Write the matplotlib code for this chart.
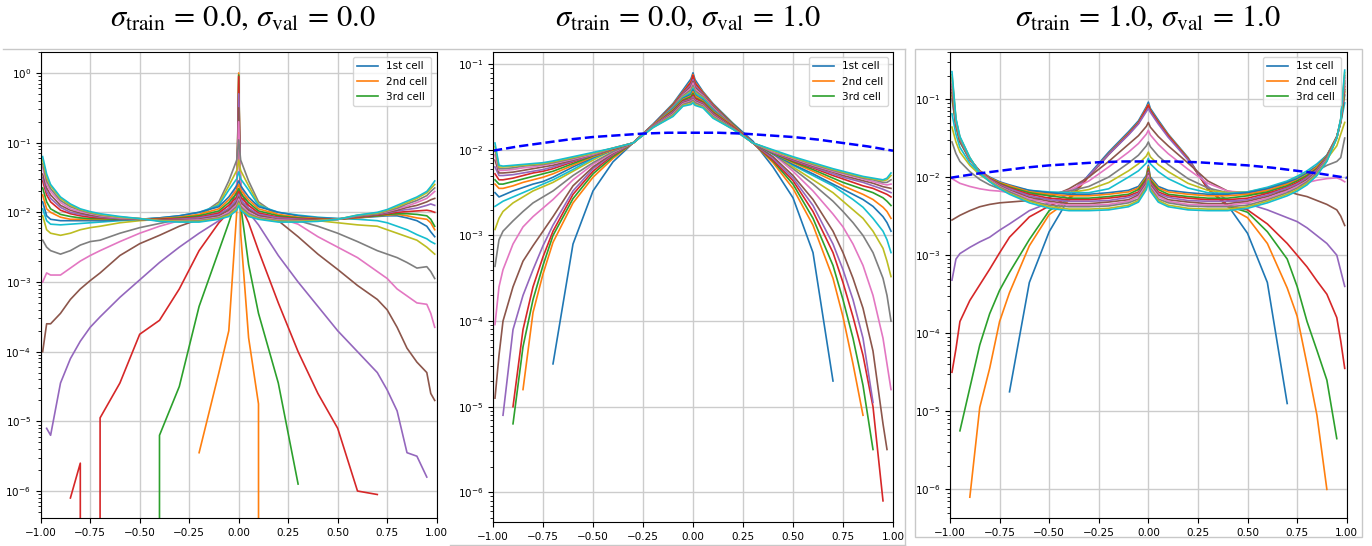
import numpy as np
import matplotlib
matplotlib.use("Agg")
import matplotlib.pyplot as plt
from matplotlib.lines import Line2D
from matplotlib.patches import Rectangle
from matplotlib.ticker import NullFormatter

na = np.nan
Z = -np.inf   # empty bin, log10(0)

# bin centres shared by all histograms
bins = [-0.99, -0.97, -0.95, -0.9, -0.85, -0.8, -0.75, -0.7, -0.6, -0.5, -0.4, -0.3,
        -0.2, -0.1, -0.05, -0.01, 0.0, 0.01, 0.05, 0.1, 0.2,
        0.3, 0.4, 0.5, 0.6, 0.7, 0.75, 0.8, 0.85, 0.9, 0.95, 0.97, 0.99]

# log10 of the cell-state frequency, one row per cell
# sigma_train = 0.0, sigma_val = 0.0
freq_00 = [
    [na, na, na, na, na, na, na, na, na, na, na, na,
     na, na, na, na, 0.0, na, na, na, na,
     na, na, na, na, na, na, na, na, na, na, na, na],
    [na, na, na, na, na, na, na, na, na, na, na, na,
     -5.45, -4.3, -3.7, -2.0, 0.0, -2.3, -3.8, -4.75, Z,
     na, na, na, na, na, na, na, na, na, na, na, na],
    [na, na, na, na, na, na, na, na, na, Z, -5.2, -4.5,
     -3.35, -2.55, -2.15, -1.8, -0.03, -1.9, -2.75, -3.45, -4.45,
     -5.9, na, na, na, na, na, na, na, na, na, na, na],
    [na, na, na, na, -6.1, -5.6, Z, -4.95, -4.45, -3.75, -3.55, -3.1,
     -2.55, -2.15, -2.0, -1.9, -0.05, -1.9, -2.15, -2.55, -3.3,
     -4.0, -4.6, -5.1, -6.0, -6.05, na, na, na, na, na, na, na],
    [na, -5.1, -5.2, -4.45, -4.1, -3.85, -3.65, -3.5, -3.22, -2.97, -2.72, -2.5,
     -2.3, -2.12, -2.0, -1.8, -0.3, -1.8, -2.0, -2.18, -2.62,
     -3.0, -3.35, -3.7, -4.0, -4.3, -4.55, -4.85, -5.45, -5.5, -5.8, na, na],
    [-4.0, -3.6, -3.6, -3.45, -3.25, -3.1, -2.98, -2.87, -2.62, -2.45, -2.33, -2.2,
     -2.1, -2.03, -1.95, -1.7, -0.5, -1.7, -1.95, -2.03, -2.12,
     -2.35, -2.6, -2.82, -3.05, -3.25, -3.4, -3.65, -3.95, -4.15, -4.3, -4.6, -4.7],
    [-3.0, -2.87, -2.9, -2.9, -2.8, -2.7, -2.62, -2.55, -2.42, -2.3, -2.2, -2.12,
     -2.06, -2.0, -1.9, -1.6, -0.7, -1.6, -1.9, -2.0, -2.08,
     -2.17, -2.35, -2.5, -2.65, -2.85, -2.95, -3.1, -3.2, -3.3, -3.32, -3.45, -3.65],
    [-2.4, -2.5, -2.55, -2.6, -2.55, -2.47, -2.42, -2.4, -2.3, -2.22, -2.16, -2.1,
     -2.05, -1.85, -1.55, -1.25, -0.96, -1.25, -1.55, -1.85, -2.05,
     -2.12, -2.2, -2.3, -2.42, -2.55, -2.6, -2.65, -2.72, -2.8, -2.78, -2.85, -2.95],
    [-2.05, -2.25, -2.3, -2.33, -2.3, -2.25, -2.22, -2.2, -2.15, -2.12, -2.1, -2.07,
     -2.04, -1.88, -1.62, -1.4, -1.25, -1.4, -1.62, -1.88, -2.04,
     -2.08, -2.12, -2.15, -2.18, -2.2, -2.25, -2.3, -2.35, -2.4, -2.5, -2.55, -2.6],
    [-1.95, -2.12, -2.17, -2.18, -2.17, -2.16, -2.15, -2.14, -2.12, -2.1, -2.08, -2.05,
     -2.0, -1.9, -1.68, -1.52, -1.42, -1.52, -1.68, -1.9, -2.0,
     -2.04, -2.07, -2.09, -2.1, -2.12, -2.15, -2.2, -2.25, -2.32, -2.38, -2.42, -2.45],
    [-1.85, -2.05, -2.1, -2.12, -2.12, -2.12, -2.12, -2.12, -2.11, -2.1, -2.08, -2.05,
     -2.0, -1.92, -1.78, -1.62, -1.55, -1.62, -1.78, -1.92, -2.0,
     -2.05, -2.08, -2.09, -2.08, -2.06, -2.05, -2.05, -2.08, -2.12, -2.2, -2.28, -2.35],
    [-1.75, -1.95, -2.0, -2.07, -2.1, -2.1, -2.1, -2.1, -2.1, -2.1, -2.09, -2.07,
     -2.03, -1.95, -1.82, -1.68, -1.6, -1.68, -1.82, -1.95, -2.03,
     -2.07, -2.09, -2.1, -2.08, -2.05, -2.04, -2.03, -2.05, -2.08, -2.1, -2.15, -2.25],
    [-1.65, -1.85, -1.95, -2.03, -2.06, -2.08, -2.09, -2.09, -2.1, -2.1, -2.1, -2.08,
     -2.05, -1.98, -1.86, -1.73, -1.66, -1.73, -1.86, -1.98, -2.05,
     -2.08, -2.1, -2.1, -2.07, -2.05, -2.03, -2.02, -2.02, -2.03, -2.05, -2.1, -2.2],
    [-1.55, -1.75, -1.85, -1.97, -2.02, -2.05, -2.07, -2.08, -2.09, -2.1, -2.1, -2.09,
     -2.07, -2.01, -1.9, -1.78, -1.7, -1.78, -1.9, -2.01, -2.07,
     -2.09, -2.1, -2.1, -2.07, -2.04, -2.02, -2.0, -1.99, -1.98, -1.97, -1.98, -2.0],
    [-1.5, -1.7, -1.8, -1.93, -2.0, -2.03, -2.05, -2.07, -2.09, -2.1, -2.11, -2.1,
     -2.08, -2.03, -1.94, -1.82, -1.74, -1.82, -1.94, -2.03, -2.08,
     -2.1, -2.11, -2.1, -2.06, -2.03, -2.01, -1.98, -1.96, -1.94, -1.9, -1.88, -1.9],
    [-1.45, -1.65, -1.75, -1.9, -1.97, -2.01, -2.04, -2.06, -2.08, -2.1, -2.11, -2.11,
     -2.1, -2.05, -1.97, -1.86, -1.78, -1.86, -1.97, -2.05, -2.1,
     -2.11, -2.11, -2.1, -2.06, -2.03, -2.0, -1.97, -1.93, -1.9, -1.85, -1.82, -1.8],
    [-1.35, -1.6, -1.7, -1.86, -1.95, -1.99, -2.02, -2.05, -2.08, -2.09, -2.12, -2.12,
     -2.11, -2.07, -2.0, -1.89, -1.81, -1.89, -2.0, -2.07, -2.11,
     -2.12, -2.12, -2.1, -2.05, -2.02, -1.99, -1.95, -1.91, -1.86, -1.8, -1.75, -1.7],
    [-1.3, -1.55, -1.66, -1.83, -1.92, -1.97, -2.01, -2.04, -2.07, -2.09, -2.12, -2.13,
     -2.12, -2.08, -2.02, -1.92, -1.84, -1.92, -2.02, -2.08, -2.12,
     -2.13, -2.12, -2.1, -2.05, -2.02, -1.98, -1.94, -1.88, -1.83, -1.76, -1.7, -1.65],
    [-1.25, -1.5, -1.62, -1.8, -1.9, -1.96, -2.0, -2.03, -2.07, -2.09, -2.12, -2.13,
     -2.13, -2.09, -2.04, -1.95, -1.87, -1.95, -2.04, -2.09, -2.13,
     -2.13, -2.12, -2.1, -2.04, -2.01, -1.97, -1.92, -1.86, -1.8, -1.72, -1.66, -1.6],
    [-1.2, -1.45, -1.6, -1.78, -1.88, -1.95, -1.99, -2.02, -2.06, -2.09, -2.13, -2.14,
     -2.14, -2.1, -2.06, -1.97, -1.9, -1.97, -2.06, -2.1, -2.14,
     -2.14, -2.13, -2.1, -2.04, -2.0, -1.96, -1.9, -1.84, -1.78, -1.7, -1.63, -1.55],
]

# sigma_train = 0.0, sigma_val = 1.0
freq_01 = [
    [na, na, na, na, na, na, na, -4.5, -3.1, -2.48, -2.14, -1.92,
     -1.7, -1.46, -1.3, -1.17, -1.1, -1.18, -1.32, -1.46, -1.69,
     -1.9, -2.2, -2.56, -3.2, -4.7, na, na, na, na, na, na, na],
    [na, na, na, na, -4.8, -3.9, -3.45, -3.08, -2.62, -2.32, -2.1, -1.92,
     -1.71, -1.47, -1.32, -1.2, -1.12, -1.21, -1.33, -1.47, -1.7,
     -1.92, -2.15, -2.45, -2.88, -3.5, -3.95, -4.5, -5.1, na, na, na, na],
    [na, na, na, -5.2, -4.3, -3.75, -3.35, -3.0, -2.57, -2.28, -2.08, -1.92,
     -1.71, -1.48, -1.33, -1.22, -1.15, -1.23, -1.34, -1.48, -1.7,
     -1.92, -2.13, -2.4, -2.8, -3.35, -3.75, -4.2, -4.75, -5.5, na, na, na],
    [na, na, na, -5.0, -4.1, -3.6, -3.25, -2.95, -2.52, -2.25, -2.06, -1.92,
     -1.71, -1.48, -1.33, -1.21, -1.13, -1.22, -1.34, -1.48, -1.71,
     -1.92, -2.12, -2.36, -2.72, -3.2, -3.55, -3.95, -4.4, -5.0, -6.1, na, na],
    [na, na, -5.1, -4.1, -3.7, -3.4, -3.12, -2.88, -2.48, -2.22, -2.05, -1.92,
     -1.71, -1.49, -1.34, -1.24, -1.18, -1.25, -1.35, -1.49, -1.71,
     -1.92, -2.1, -2.33, -2.65, -3.1, -3.4, -3.75, -4.2, -4.95, na, na, na],
    [-4.9, -4.4, -4.0, -3.6, -3.3, -3.12, -2.95, -2.78, -2.42, -2.2, -2.04, -1.92,
     -1.71, -1.49, -1.35, -1.26, -1.2, -1.27, -1.36, -1.5, -1.71,
     -1.92, -2.08, -2.3, -2.58, -2.95, -3.2, -3.5, -3.85, -4.35, -5.2, -5.5, na],
    [-4.04, -3.6, -3.4, -3.1, -2.9, -2.78, -2.68, -2.58, -2.35, -2.17, -2.03, -1.92,
     -1.72, -1.5, -1.36, -1.28, -1.22, -1.29, -1.37, -1.51, -1.72,
     -1.92, -2.05, -2.25, -2.48, -2.75, -2.9, -3.1, -3.35, -3.7, -4.2, -4.5, -4.8],
    [-3.36, -3.05, -2.95, -2.83, -2.72, -2.62, -2.55, -2.48, -2.3, -2.15, -2.02, -1.92,
     -1.72, -1.5, -1.37, -1.3, -1.25, -1.31, -1.38, -1.52, -1.72,
     -1.92, -2.04, -2.22, -2.4, -2.6, -2.72, -2.85, -3.0, -3.2, -3.5, -3.7, -4.0],
    [-2.93, -2.8, -2.72, -2.62, -2.55, -2.48, -2.43, -2.38, -2.25, -2.12, -2.0, -1.92,
     -1.72, -1.51, -1.38, -1.32, -1.27, -1.33, -1.39, -1.53, -1.73,
     -1.92, -2.03, -2.2, -2.35, -2.5, -2.6, -2.7, -2.8, -2.95, -3.15, -3.3, -3.48],
    [-2.66, -2.63, -2.6, -2.55, -2.5, -2.45, -2.4, -2.35, -2.23, -2.1, -2.0, -1.92,
     -1.72, -1.51, -1.39, -1.33, -1.28, -1.34, -1.4, -1.53, -1.73,
     -1.92, -2.02, -2.18, -2.3, -2.42, -2.5, -2.58, -2.67, -2.8, -2.95, -3.05, -3.2],
    [-2.5, -2.55, -2.53, -2.48, -2.44, -2.4, -2.37, -2.32, -2.2, -2.09, -2.0, -1.92,
     -1.71, -1.52, -1.4, -1.35, -1.3, -1.36, -1.42, -1.54, -1.72,
     -1.92, -2.05, -2.17, -2.28, -2.4, -2.46, -2.52, -2.58, -2.66, -2.78, -2.85, -2.95],
    [-2.4, -2.45, -2.45, -2.42, -2.38, -2.35, -2.32, -2.28, -2.18, -2.08, -2.0, -1.92,
     -1.71, -1.53, -1.41, -1.37, -1.32, -1.37, -1.43, -1.55, -1.72,
     -1.92, -2.04, -2.15, -2.25, -2.36, -2.42, -2.47, -2.52, -2.58, -2.67, -2.72, -2.8],
    [-2.35, -2.4, -2.4, -2.37, -2.34, -2.31, -2.28, -2.25, -2.16, -2.07, -1.99, -1.92,
     -1.72, -1.54, -1.42, -1.38, -1.34, -1.39, -1.44, -1.56, -1.73,
     -1.92, -2.04, -2.14, -2.23, -2.33, -2.38, -2.42, -2.46, -2.5, -2.56, -2.6, -2.65],
    [-2.28, -2.35, -2.35, -2.33, -2.3, -2.27, -2.25, -2.22, -2.14, -2.06, -1.99, -1.92,
     -1.72, -1.55, -1.43, -1.4, -1.36, -1.4, -1.45, -1.57, -1.73,
     -1.92, -2.03, -2.13, -2.21, -2.3, -2.34, -2.38, -2.42, -2.45, -2.5, -2.52, -2.55],
    [-2.2, -2.3, -2.3, -2.29, -2.27, -2.25, -2.23, -2.2, -2.13, -2.06, -1.99, -1.92,
     -1.72, -1.56, -1.44, -1.41, -1.38, -1.42, -1.46, -1.58, -1.74,
     -1.92, -2.03, -2.12, -2.2, -2.28, -2.32, -2.35, -2.38, -2.42, -2.46, -2.48, -2.5],
    [-2.12, -2.27, -2.27, -2.26, -2.24, -2.22, -2.2, -2.18, -2.12, -2.05, -1.99, -1.92,
     -1.73, -1.57, -1.45, -1.42, -1.4, -1.43, -1.47, -1.59, -1.74,
     -1.92, -2.02, -2.11, -2.19, -2.26, -2.3, -2.33, -2.36, -2.39, -2.43, -2.44, -2.45],
    [-2.06, -2.24, -2.24, -2.23, -2.21, -2.2, -2.18, -2.16, -2.11, -2.05, -1.98, -1.92,
     -1.73, -1.58, -1.46, -1.43, -1.41, -1.44, -1.48, -1.6, -1.75,
     -1.92, -2.02, -2.1, -2.18, -2.25, -2.28, -2.31, -2.34, -2.37, -2.4, -2.41, -2.4],
    [-2.0, -2.22, -2.22, -2.21, -2.19, -2.18, -2.17, -2.15, -2.1, -2.04, -1.98, -1.92,
     -1.73, -1.59, -1.47, -1.44, -1.42, -1.45, -1.49, -1.61, -1.75,
     -1.92, -2.01, -2.09, -2.17, -2.24, -2.27, -2.3, -2.33, -2.35, -2.38, -2.38, -2.35],
    [-1.96, -2.2, -2.2, -2.19, -2.18, -2.17, -2.16, -2.14, -2.09, -2.04, -1.98, -1.92,
     -1.74, -1.6, -1.48, -1.46, -1.44, -1.47, -1.5, -1.62, -1.76,
     -1.92, -2.01, -2.09, -2.16, -2.23, -2.26, -2.29, -2.32, -2.34, -2.36, -2.35, -2.3],
    [-1.92, -2.18, -2.19, -2.18, -2.17, -2.16, -2.15, -2.13, -2.08, -2.03, -1.98, -1.92,
     -1.74, -1.61, -1.49, -1.47, -1.45, -1.48, -1.51, -1.63, -1.76,
     -1.92, -2.0, -2.08, -2.15, -2.22, -2.25, -2.28, -2.31, -2.33, -2.35, -2.33, -2.27],
]

# sigma_train = 1.0, sigma_val = 1.0
freq_11 = [
    [na, na, na, na, na, na, na, -4.75, -3.35, -2.7, -2.27, -1.97,
     -1.68, -1.42, -1.28, -1.1, -1.04, -1.12, -1.27, -1.45, -1.75,
     -2.15, -2.36, -2.72, -3.35, -4.9, na, na, na, na, na, na, na],
    [na, na, na, -6.1, -4.95, -4.45, -3.85, -3.48, -2.88, -2.48, -2.3, -1.99,
     -1.7, -1.44, -1.3, -1.12, -1.07, -1.14, -1.29, -1.46, -1.76,
     -2.15, -2.38, -2.52, -2.85, -3.42, -3.78, -4.4, -5.05, -6.0, na, na, na],
    [na, na, -5.25, -4.7, -4.15, -3.75, -3.45, -3.22, -2.8, -2.43, -2.28, -1.99,
     -1.71, -1.45, -1.31, -1.14, -1.09, -1.15, -1.3, -1.47, -1.77,
     -2.15, -2.37, -2.45, -2.7, -3.05, -3.4, -3.85, -4.22, -4.6, -5.35, na, na],
    [-4.5, -4.2, -3.85, -3.58, -3.38, -3.18, -2.97, -2.77, -2.51, -2.37, -2.27, -1.99,
     -1.71, -1.45, -1.31, -1.13, -1.08, -1.15, -1.3, -1.47, -1.77,
     -2.15, -2.36, -2.42, -2.6, -2.85, -3.0, -3.15, -3.33, -3.5, -3.8, -4.1, -4.45],
    [-3.32, -3.05, -2.98, -2.9, -2.83, -2.77, -2.68, -2.6, -2.43, -2.33, -2.22, -1.98,
     -1.71, -1.46, -1.32, -1.16, -1.12, -1.17, -1.32, -1.49, -1.78,
     -2.12, -2.3, -2.34, -2.42, -2.52, -2.57, -2.65, -2.75, -2.85, -3.0, -3.2, -3.4],
    [-2.55, -2.52, -2.49, -2.43, -2.38, -2.35, -2.33, -2.32, -2.3, -2.26, -2.15, -2.0,
     -1.8, -1.58, -1.47, -1.35, -1.3, -1.36, -1.48, -1.6, -1.82,
     -2.05, -2.18, -2.22, -2.2, -2.18, -2.22, -2.25, -2.3, -2.35, -2.42, -2.5, -2.62],
    [-2.02, -2.05, -2.08, -2.12, -2.15, -2.17, -2.18, -2.2, -2.22, -2.23, -2.17, -2.05,
     -1.87, -1.68, -1.57, -1.45, -1.4, -1.46, -1.58, -1.7, -1.9,
     -2.08, -2.18, -2.2, -2.17, -2.12, -2.1, -2.07, -2.04, -2.02, -2.01, -2.03, -2.06],
    [-1.55, -1.7, -1.8, -1.93, -2.03, -2.1, -2.15, -2.18, -2.22, -2.22, -2.18, -2.12,
     -2.0, -1.82, -1.72, -1.6, -1.55, -1.61, -1.73, -1.84, -2.02,
     -2.14, -2.2, -2.2, -2.15, -2.08, -2.03, -1.98, -1.92, -1.85, -1.8, -1.75, -1.5],
    [-1.36, -1.55, -1.68, -1.85, -1.97, -2.05, -2.1, -2.14, -2.19, -2.2, -2.2, -2.16,
     -2.07, -1.92, -1.83, -1.73, -1.68, -1.74, -1.84, -1.93, -2.08,
     -2.17, -2.2, -2.19, -2.14, -2.06, -2.0, -1.94, -1.86, -1.77, -1.6, -1.45, -1.3],
    [-1.19, -1.45, -1.62, -1.82, -1.95, -2.03, -2.08, -2.12, -2.17, -2.19, -2.2, -2.2,
     -2.15, -2.0, -1.92, -1.82, -1.76, -1.83, -1.93, -2.02, -2.14,
     -2.2, -2.21, -2.19, -2.13, -2.05, -1.99, -1.92, -1.83, -1.72, -1.5, -1.3, -1.05],
    [-1.0, -1.35, -1.55, -1.78, -1.92, -2.0, -2.06, -2.1, -2.17, -2.2, -2.22, -2.22,
     -2.2, -2.17, -2.12, -1.98, -1.85, -2.0, -2.12, -2.17, -2.2,
     -2.22, -2.22, -2.2, -2.15, -2.07, -2.02, -1.95, -1.86, -1.72, -1.48, -1.3, -0.95],
    [-0.96, -1.34, -1.54, -1.78, -1.92, -2.01, -2.07, -2.11, -2.19, -2.22, -2.24, -2.24,
     -2.22, -2.19, -2.14, -2.0, -1.87, -2.02, -2.14, -2.19, -2.22,
     -2.24, -2.24, -2.22, -2.17, -2.09, -2.04, -1.97, -1.87, -1.73, -1.48, -1.29, -0.91],
    [-0.92, -1.33, -1.54, -1.77, -1.93, -2.02, -2.08, -2.13, -2.2, -2.24, -2.27, -2.27,
     -2.25, -2.22, -2.16, -2.02, -1.89, -2.04, -2.16, -2.22, -2.25,
     -2.27, -2.27, -2.24, -2.19, -2.11, -2.05, -1.98, -1.89, -1.74, -1.49, -1.29, -0.88],
    [-0.88, -1.32, -1.53, -1.77, -1.93, -2.02, -2.09, -2.14, -2.22, -2.27, -2.29, -2.29,
     -2.27, -2.24, -2.19, -2.04, -1.92, -2.06, -2.19, -2.24, -2.27,
     -2.29, -2.29, -2.27, -2.21, -2.13, -2.07, -2.0, -1.9, -1.75, -1.49, -1.28, -0.84],
    [-0.84, -1.31, -1.52, -1.77, -1.93, -2.03, -2.1, -2.15, -2.24, -2.29, -2.31, -2.31,
     -2.3, -2.26, -2.21, -2.06, -1.94, -2.08, -2.21, -2.26, -2.3,
     -2.31, -2.31, -2.29, -2.23, -2.14, -2.09, -2.01, -1.91, -1.75, -1.49, -1.28, -0.8],
    [-0.81, -1.29, -1.51, -1.76, -1.94, -2.04, -2.11, -2.17, -2.26, -2.31, -2.34, -2.34,
     -2.32, -2.29, -2.23, -2.08, -1.96, -2.1, -2.23, -2.29, -2.32,
     -2.34, -2.34, -2.31, -2.25, -2.16, -2.11, -2.03, -1.93, -1.76, -1.49, -1.27, -0.77],
    [-0.77, -1.28, -1.5, -1.76, -1.94, -2.04, -2.12, -2.18, -2.28, -2.33, -2.36, -2.36,
     -2.35, -2.31, -2.25, -2.1, -1.98, -2.12, -2.25, -2.31, -2.35,
     -2.36, -2.36, -2.33, -2.27, -2.18, -2.12, -2.05, -1.94, -1.77, -1.5, -1.27, -0.73],
    [-0.73, -1.27, -1.5, -1.76, -1.94, -2.05, -2.13, -2.19, -2.3, -2.36, -2.38, -2.38,
     -2.37, -2.33, -2.28, -2.12, -2.01, -2.14, -2.28, -2.33, -2.37,
     -2.38, -2.38, -2.36, -2.29, -2.2, -2.14, -2.06, -1.95, -1.78, -1.5, -1.26, -0.7],
    [-0.69, -1.26, -1.49, -1.75, -1.95, -2.05, -2.14, -2.21, -2.31, -2.38, -2.41, -2.41,
     -2.4, -2.36, -2.3, -2.14, -2.03, -2.16, -2.3, -2.36, -2.4,
     -2.41, -2.41, -2.38, -2.31, -2.22, -2.16, -2.08, -1.97, -1.79, -1.5, -1.26, -0.66],
    [-0.65, -1.25, -1.48, -1.75, -1.95, -2.06, -2.15, -2.22, -2.33, -2.4, -2.43, -2.43,
     -2.42, -2.38, -2.32, -2.16, -2.05, -2.18, -2.32, -2.38, -2.42,
     -2.43, -2.43, -2.4, -2.33, -2.24, -2.18, -2.1, -1.98, -1.8, -1.5, -1.25, -0.63],
]

# reference density (dashed), log10
gauss_x = [-1.0, -0.875, -0.75, -0.625, -0.5, -0.375, -0.25, -0.125, 0.0,
           0.125, 0.25, 0.375, 0.5, 0.625, 0.75, 0.875, 1.0]
gauss_logp = [-2.01, -1.96, -1.92, -1.88, -1.85, -1.83, -1.81, -1.80, -1.80,
              -1.80, -1.81, -1.83, -1.85, -1.88, -1.92, -1.96, -2.01]

titles = [r"$\sigma_{\mathrm{train}}\,=\,0.0,\,\sigma_{\mathrm{val}}\,=\,0.0$",
          r"$\sigma_{\mathrm{train}}\,=\,0.0,\,\sigma_{\mathrm{val}}\,=\,1.0$",
          r"$\sigma_{\mathrm{train}}\,=\,1.0,\,\sigma_{\mathrm{val}}\,=\,1.0$"]
cell_labels = ["1st cell", "2nd cell", "3rd cell"]

panels = [freq_00, freq_01, freq_11]
show_gauss = [False, True, True]
ylims = [(4.1e-7, 2.0), (4.5e-7, 0.139), (4.3e-7, 0.40)]
# decades labelled on each y axis
ydecades = [range(-6, 1), range(-6, 0), range(-6, 0)]
# axes boxes in pixels: left, top, right, bottom
boxes = [(40.7, 52, 436.7, 518), (493, 52, 893, 522), (950, 52, 1346.7, 518)]
title_x = [243, 688, 1148]

plt.rcParams["mathtext.fontset"] = "stix"

W, H = 1372, 546
fig = plt.figure(figsize=(W / 100, H / 100), dpi=100)

# light frames around the panels
edge = "#c8c8c8"
fig.add_artist(Line2D([3 / W, 905 / W], [1 - 49 / H, 1 - 49 / H], color=edge, lw=1))
fig.add_artist(Line2D([905 / W, 905 / W], [1 - 49 / H, 0.0], color=edge, lw=1))
fig.add_artist(Line2D([450 / W, 905 / W], [1 - 545 / H, 1 - 545 / H], color=edge, lw=1))
fig.add_artist(Rectangle((915 / W, 1 - 537 / H), 447 / W, 488 / H, fill=False,
                         edgecolor=edge, lw=1, transform=fig.transFigure))

for k in range(3):
    l, t, r, b = boxes[k]
    ax = fig.add_axes([l / W, 1 - b / H, (r - l) / W, (b - t) / H])
    for i, row in enumerate(panels[k]):
        lab = cell_labels[i] if i < 3 else None
        ax.plot(bins, 10.0 ** np.array(row), color="C%d" % (i % 10), lw=1.2, label=lab)
    if show_gauss[k]:
        ax.plot(gauss_x, 10.0 ** np.array(gauss_logp), "b--", lw=1.8)
    ax.set_yscale("log")
    ax.set_xlim(-1, 1)
    ax.set_ylim(*ylims[k])
    ax.set_yticks([10.0 ** e for e in ydecades[k]])
    ax.yaxis.set_minor_formatter(NullFormatter())
    ax.set_xticks([-1.0, -0.75, -0.5, -0.25, 0.0, 0.25, 0.5, 0.75, 1.0])
    ax.grid(True, which="major", color="#cccccc", lw=1.0)
    ax.tick_params(labelsize=7.5)
    ax.legend(loc="upper right", fontsize=7.5)
    fig.text(title_x[k] / W, 1 - 18 / H, titles[k], ha="center", va="center", fontsize=22)

fig.savefig("out.png", dpi=100)
